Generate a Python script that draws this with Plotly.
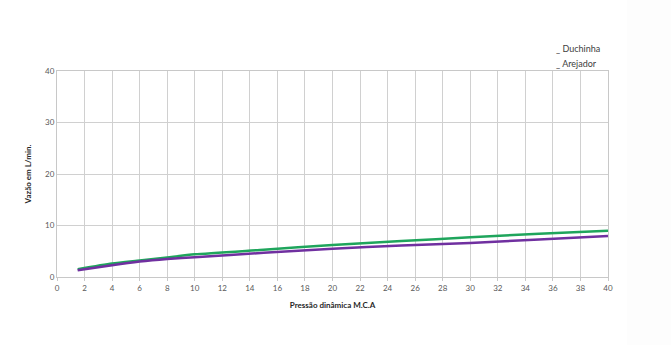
import plotly.graph_objects as go

pressao = [1.5, 4, 6, 8, 10, 15, 20, 25, 30, 35, 40]
duchinha = [1.5, 2.6, 3.2, 3.8, 4.4, 5.3, 6.2, 7.0, 7.7, 8.4, 9.0]
arejador = [1.3, 2.3, 3.0, 3.5, 3.85, 4.7, 5.5, 6.1, 6.6, 7.3, 7.95]
x_ticks = list(range(0, 41, 2))
y_ticks = [0, 10, 20, 30, 40]

fig = go.Figure()
fig.add_trace(go.Scatter(x=pressao, y=duchinha, mode="lines", name="Duchinha",
                         line=dict(color="#1fa55c", width=2.5, shape="spline", smoothing=0.6)))
fig.add_trace(go.Scatter(x=pressao, y=arejador, mode="lines", name="Arejador",
                         line=dict(color="#7030a0", width=2.5, shape="spline", smoothing=0.6)))

font = dict(family="Lato, Open Sans, sans-serif", size=8, color="#595959")
fig.update_layout(
    width=671, height=345,
    margin=dict(l=57, r=63, t=71, b=68),
    paper_bgcolor="white", plot_bgcolor="white",
    showlegend=False,
    font=font,
    xaxis=dict(range=[0, 40], tickvals=x_ticks, ticktext=[str(v) for v in x_ticks],
               showgrid=True, gridcolor="#d0d0d0", gridwidth=1,
               showline=True, linecolor="#c8c8c8", mirror=True,
               ticks="outside", ticklen=3, tickcolor="#c8c8c8",
               zeroline=False, tickfont=font,
               title=dict(text="<b>Pressão dinâmica M.C.A</b>", font=dict(family="Lato, sans-serif", size=8, color="#262626"), standoff=10)),
    yaxis=dict(range=[0, 40], tickvals=y_ticks, ticktext=[str(v) for v in y_ticks],
               showgrid=True, gridcolor="#d0d0d0", gridwidth=1,
               showline=True, linecolor="#c8c8c8", mirror=True,
               zeroline=False, tickfont=font, ticks="", ticklen=0,
               title=dict(text="<b>Vazão em L/min.</b>", font=dict(family="Lato, sans-serif", size=8, color="#262626"), standoff=12)),
    shapes=[dict(type="rect", xref="paper", yref="paper", x0=1.035, x1=1.2, y0=-0.4, y1=1.4,
                 fillcolor="#fdfdfd", line=dict(width=0), layer="below")],
    annotations=[
        dict(text="_ Duchinha", xref="paper", yref="paper", x=0.902, y=1.11, xanchor="left", yanchor="middle",
             showarrow=False, font=dict(family="Lato, sans-serif", size=9, color="#404040")),
        dict(text="_ Arejador", xref="paper", yref="paper", x=0.902, y=1.037, xanchor="left", yanchor="middle",
             showarrow=False, font=dict(family="Lato, sans-serif", size=9, color="#404040")),
    ],
)
fig.write_html("out.html")
